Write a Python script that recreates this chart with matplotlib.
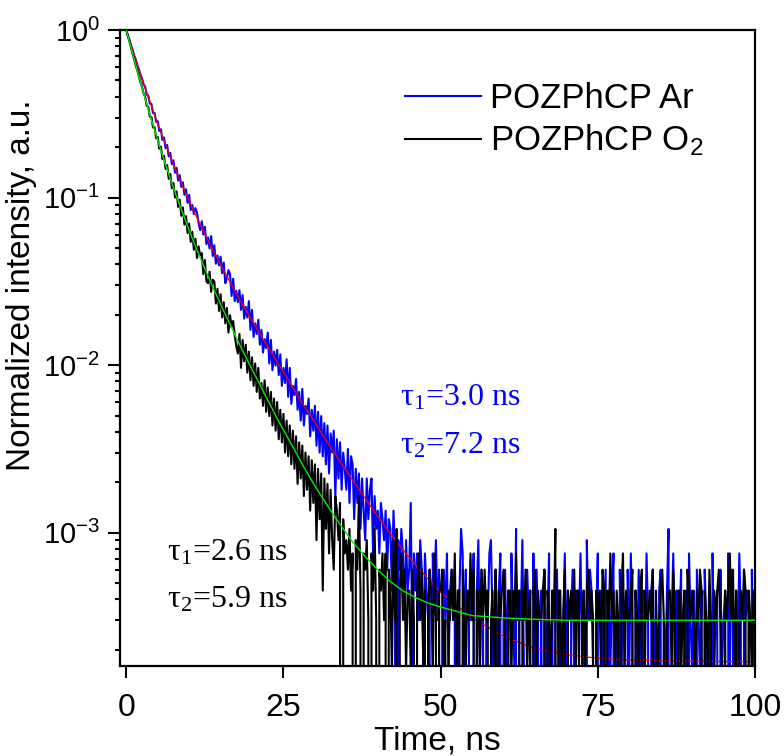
import numpy as np
import matplotlib
matplotlib.use("Agg")
import matplotlib.pyplot as plt

plt.rcParams['font.family'] = ['Liberation Sans', 'DejaVu Sans']
plt.rcParams['mathtext.default'] = 'regular'

# TCSPC channel width, ns
channel_ns = 0.25

# photon counts per channel, POZPhCP under Ar (blue)
ar_counts = [
    6650, 6180, 5820, 5390, 5080, 4690, 4440, 4110, 3890, 3600, 3420, 3150, 3060, 2740, 2700, 2420, 2410, 2120, 2130, 1880,
    1900, 1660, 1700, 1470, 1520, 1310, 1370, 1170, 1230, 1050, 1110, 935, 1000, 840, 905, 770, 820, 690, 745, 618,
    690, 560, 600, 530, 575, 540, 470, 425, 480, 400, 445, 350, 385, 330, 392, 298, 345, 268, 300, 262,
    295, 235, 272, 205, 220, 245, 232, 172, 218, 160, 185, 158, 186, 142, 174, 126, 148, 128, 160, 108,
    142, 98, 118, 102, 124, 88, 108, 79, 95, 84, 104, 68, 94, 62, 80, 66, 82, 58, 77, 50,
    64, 52, 72, 43, 64, 39, 50, 44, 55, 36, 46, 31, 48, 29, 38, 34, 42, 25, 36, 27,
    38, 22, 35, 20, 33, 19, 30, 17, 29, 15, 26, 20, 27, 11, 24, 14, 23, 12, 20, 16,
    12, 21, 10, 19, 17, 8, 16, 10, 15, 7, 14, 9, 6, 14, 8, 12, 14, 5, 11, 7,
    9, 5, 10, 8, 6, 9, 4, 8, 7, 3, 9, 5, 0, 6, 4, 7, 5, 2, 6, 3,
    4, 10, 1, 5, 3, 5, 2, 6, 4, 1, 5, 3, 2, 4, 0, 5, 3, 6, 2, 4,
    0, 3, 4, 2, 5, 1, 3, 4, 2, 4, 0, 3, 3, 7, 5, 1, 4, 0, 3, 2,
    2, 5, 0, 3, 6, 1, 4, 2, 0, 3, 2, 5, 6, 2, 0, 4, 1, 3, 5, 0,
    2, 4, 1, 3, 0, 5, 2, 1, 7, 0, 3, 2, 6, 1, 0, 4, 2, 3, 0, 5,
    1, 4, 2, 0, 3, 0, 4, 1, 2, 5, 0, 3, 0, 2, 4, 1, 3, 0, 2, 5,
    1, 3, 0, 2, 4, 1, 3, 0, 2, 5, 1, 3, 0, 6, 2, 4, 3, 1, 0, 2,
    5, 0, 3, 1, 2, 4, 0, 3, 1, 3, 5, 0, 2, 0, 4, 1, 3, 2, 0, 4,
    1, 5, 2, 0, 3, 1, 4, 2, 0, 3, 1, 5, 2, 0, 3, 4, 1, 2, 0, 3,
    4, 0, 2, 1, 3, 7, 0, 2, 5, 1, 3, 0, 2, 4, 0, 1, 3, 0, 5, 2,
    1, 3, 0, 4, 2, 1, 3, 0, 4, 2, 0, 3, 0, 5, 1, 2, 3, 0, 4, 1,
    2, 3, 0, 5, 1, 4, 2, 0, 3, 1, 5, 2, 0, 4, 2, 3, 2, 0, 4, 1,
    3,
]

# photon counts per channel, POZPhCP under O2 (black)
o2_counts = [
    6650, 6110, 5680, 5200, 4790, 4470, 4080, 3830, 3530, 3240, 3050, 2780, 2660, 2350, 2310, 2020, 2010, 1740, 1750, 1500,
    1530, 1300, 1340, 1130, 1180, 985, 1040, 860, 920, 755, 812, 665, 725, 585, 645, 518, 580, 458, 515, 408,
    465, 362, 415, 325, 378, 290, 340, 300, 310, 232, 282, 210, 205, 240, 182, 215, 210, 155, 190, 140,
    176, 128, 158, 118, 146, 104, 132, 112, 122, 100, 86, 78, 102, 64, 94, 70, 88, 60, 80, 54,
    74, 50, 68, 46, 64, 42, 52, 38, 54, 35, 49, 33, 46, 29, 42, 27, 40, 24, 36, 23,
    34, 20, 31, 19, 29, 17, 27, 16, 25, 13, 23, 14, 22, 11, 20, 12, 19, 9, 18, 10,
    17, 6, 16, 8, 15, 3, 14, 7, 13, 5, 12, 6, 4, 11, 9, 6, 10, 0, 8, 5,
    6, 4, 7, 3, 5, 0, 6, 4, 11, 3, 0, 5, 4, 6, 2, 0, 5, 3, 7, 2,
    0, 4, 3, 5, 2, 5, 0, 4, 3, 1, 6, 2, 7, 0, 3, 5, 2, 4, 1, 3,
    3, 1, 4, 2, 0, 3, 5, 2, 4, 1, 3, 0, 2, 4, 3, 1, 5, 2, 0, 3,
    3, 4, 1, 2, 0, 3, 2, 4, 2, 5, 1, 3, 3, 0, 4, 2, 1, 3, 2, 5,
    2, 4, 0, 3, 3, 1, 4, 2, 4, 2, 3, 0, 2, 3, 1, 4, 0, 3, 2, 3,
    4, 2, 0, 3, 3, 1, 3, 2, 5, 2, 3, 0, 3, 2, 4, 1, 2, 3, 0, 3,
    4, 1, 3, 2, 2, 3, 4, 0, 3, 2, 1, 3, 2, 7, 0, 3, 3, 1, 2, 4,
    0, 3, 2, 3, 2, 4, 1, 3, 3, 0, 2, 3, 1, 3, 4, 2, 3, 2, 0, 3,
    2, 3, 1, 4, 3, 0, 3, 2, 5, 2, 3, 1, 3, 2, 0, 3, 5, 1, 3, 2,
    2, 3, 4, 0, 3, 2, 1, 3, 4, 0, 3, 2, 2, 3, 2, 4, 0, 3, 1, 2,
    3, 4, 2, 0, 2, 3, 3, 1, 4, 2, 0, 3, 3, 1, 2, 3, 0, 4, 3, 2,
    3, 2, 1, 3, 2, 4, 3, 0, 3, 2, 1, 4, 2, 0, 3, 2, 3, 4, 2, 1,
    0, 3, 2, 3, 5, 2, 4, 1, 3, 0, 2, 3, 2, 4, 3, 0, 3, 2, 1, 3,
    2,
]

# biexponential fit curves
fit_time = [0, 1, 2, 3, 4, 5, 6, 7, 8, 9, 10, 11, 12, 13, 14, 15, 16, 17, 18, 19, 20,
            21, 22, 23, 24, 25, 26, 27, 28, 29, 30, 32, 34, 36, 38, 40, 42, 44, 46, 48, 50,
            55, 60, 65, 70, 75, 80, 85, 90, 95, 100]
ar_fit = [1.0, 0.7596, 0.5817, 0.4495, 0.3505, 0.2758, 0.2191, 0.1757, 0.1422, 0.1161, 0.0955,
          0.0792, 0.0661, 0.0556, 0.0469, 0.0397, 0.0339, 0.0289, 0.0248, 0.0213, 0.0185,
          0.0160, 0.0138, 0.0120, 0.0104, 0.0091, 0.0079, 0.0068, 0.0059, 0.0052, 0.00455,
          0.00345, 0.00266, 0.00206, 0.00160, 0.00125, 0.00099, 0.00079, 0.00064, 0.00053, 0.00044,
          0.00031, 0.00024, 0.000204, 0.000187, 0.000178, 0.000174, 0.000172, 0.000171, 0.00017, 0.00017]
o2_fit = [1.0, 0.7235, 0.5285, 0.3901, 0.2912, 0.2199, 0.1679, 0.1298, 0.1014, 0.0801, 0.0638,
          0.0513, 0.0416, 0.0340, 0.0279, 0.0231, 0.0192, 0.0160, 0.0133, 0.0112, 0.0094,
          0.0080, 0.0067, 0.0057, 0.0048, 0.0041, 0.0035, 0.0030, 0.00256, 0.0022, 0.0019,
          0.00145, 0.00112, 0.00088, 0.00072, 0.00060, 0.00051, 0.00045, 0.00041, 0.00038, 0.00036,
          0.00032, 0.00031, 0.000304, 0.0003, 0.0003, 0.0003, 0.0003, 0.0003, 0.0003, 0.0003]

ar_label = 'POZPhCP Ar'
o2_label = 'POZPhCP O$_2$'
ar_taus = ['τ$_1$=3.0 ns', 'τ$_2$=7.2 ns']
o2_taus = ['τ$_1$=2.6 ns', 'τ$_2$=5.9 ns']

ar = np.array(ar_counts, dtype=float)
o2 = np.array(o2_counts, dtype=float)
t_ar = np.arange(len(ar)) * channel_ns
t_o2 = np.arange(len(o2)) * channel_ns

fig = plt.figure(figsize=(7.84, 7.56), dpi=100)
ax = fig.add_axes([120 / 784, 90 / 756, 635 / 784, 636 / 756])

ax.plot(t_ar, ar / ar[0], color='#0000ff', lw=1.5, label=ar_label, zorder=1)
ax.plot(fit_time, ar_fit, color='#ff0000', lw=0.9, zorder=2)
ax.plot(t_o2, o2 / o2[0], color='black', lw=1.5, label=o2_label, zorder=3)
ax.plot(fit_time, o2_fit, color='#00ee00', lw=1.0, zorder=4)

ax.set_yscale('log')
ax.set_xlim(-1, 100)
ax.set_ylim(1.6e-4, 1)
ax.set_xticks([0, 25, 50, 75, 100])
ax.minorticks_off()
ax.yaxis.set_minor_locator(matplotlib.ticker.LogLocator(base=10, subs=np.arange(2, 10)))
ax.yaxis.set_minor_formatter(matplotlib.ticker.NullFormatter())

for s in ax.spines.values():
    s.set_linewidth(1.6)
ax.tick_params(which='major', direction='out', length=8.5, width=1.5)
ax.tick_params(which='minor', direction='out', length=3.6, width=1.5)
ax.tick_params(axis='x', pad=11, labelsize=23)
ax.tick_params(axis='y', pad=6, labelsize=21)
ax.tick_params(top=False, right=False)

ax.set_xlabel('Time, ns', fontsize=24, labelpad=2)
ax.set_ylabel('Normalized intensity, a.u.', fontsize=24)
ax.yaxis.set_label_coords(-0.13, 0.599)

leg = ax.legend(loc='upper left', bbox_to_anchor=(0.449, 0.918), frameon=False, fontsize=25,
                handlelength=2.19, handletextpad=0.26, borderpad=0, borderaxespad=0, labelspacing=0.22)

serif = ['Liberation Serif', 'DejaVu Serif']
ax.text(43.5, 5.77e-3, ar_taus[0], color='#0000ff', fontsize=23, family=serif, va='baseline')
ax.text(43.5, 2.98e-3, ar_taus[1], color='#0000ff', fontsize=23, family=serif, va='baseline')
ax.text(6.5, 6.85e-4, o2_taus[0], color='black', fontsize=23, family=serif, va='baseline')
ax.text(6.5, 3.59e-4, o2_taus[1], color='black', fontsize=23, family=serif, va='baseline')

fig.savefig('out.png', dpi=100)
